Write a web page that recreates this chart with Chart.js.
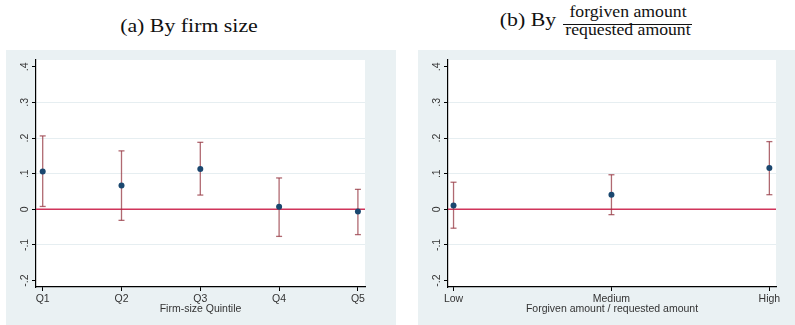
<!DOCTYPE html>
<html>
<head>
<meta charset="utf-8">
<script src="https://cdn.jsdelivr.net/npm/chart.js@4.4.1/dist/chart.umd.min.js"></script>
<style>
  body { margin: 0; width: 795px; height: 325px; position: relative; overflow: hidden; background: #fff; }
  .panel { position: absolute; background: #eaf1f3; }
  .t { position: absolute; width: 200px; text-align: center; white-space: nowrap; color: #111;
       font-family: "Liberation Serif", "Times New Roman", serif; transform: scaleX(1.12); transform-origin: center top; }
  .big { font-size: 19.5px; line-height: 19.5px; }
  .small { font-size: 15.8px; line-height: 15.8px; }
  .bar { position: absolute; left: 563px; top: 23.5px; width: 129px; height: 1px; background: #111; }
</style>
</head>
<body>
<div class="t big" style="left:89px;top:15.5px">(a) By firm size</div>
<div class="t big" style="left:428px;top:10.3px">(b) By</div>
<div class="t small" style="left:527.5px;top:4.1px">forgiven amount</div>
<div class="bar"></div>
<div class="t small" style="left:527.5px;top:21.8px">requested amount</div>

<div class="panel" style="left:6px;top:50px;width:390px;height:275px"><canvas id="c1"></canvas></div>
<div class="panel" style="left:418px;top:50px;width:377px;height:275px"><canvas id="c2"></canvas></div>

<script>
// panel (a): firm-size quintiles
const sizeLabels = ['Q1', 'Q2', 'Q3', 'Q4', 'Q5'];
const sizeCoef = [0.106, 0.067, 0.113, 0.007, -0.006];
const sizeLow = [0.008, -0.031, 0.040, -0.076, -0.071];
const sizeHigh = [0.206, 0.164, 0.188, 0.088, 0.056];

// panel (b): forgiven / requested amount
const forgLabels = ['Low', 'Medium', 'High'];
const forgCoef = [0.011, 0.041, 0.116];
const forgLow = [-0.053, -0.015, 0.041];
const forgHigh = [0.076, 0.097, 0.190];

// shared y axis
const yTicks = [-0.2, -0.1, 0, 0.1, 0.2, 0.3, 0.4];
const yTickLabels = ['-.2', '-.1', '0', '.1', '.2', '.3', '.4'];

const ciColor = 'rgba(150, 55, 65, 0.75)';
const dotColor = '#1a476f';
const zeroColor = '#d0345a';
const textColor = '#333';

// white plot region inside the tinted panel
const plotBg = {
  id: 'plotBg',
  beforeDraw(chart) {
    const { ctx, chartArea: a } = chart;
    ctx.save();
    ctx.fillStyle = '#fff';
    ctx.fillRect(a.left, a.top, a.right - a.left, a.bottom - a.top);
    ctx.restore();
  }
};

function makeChart(id, labels, coef, lo, hi, xTitle, xMin, xMax, padRight) {
  const datasets = [];
  // points first so they sit on top
  datasets.push({
    type: 'scatter',
    data: coef.map((v, i) => ({ x: i + 1, y: v })),
    pointRadius: 3,
    pointBorderWidth: 0,
    pointBackgroundColor: dotColor
  });
  labels.forEach((l, i) => {
    datasets.push({
      type: 'line',
      data: [{ x: i + 1, y: lo[i] }, { x: i + 1, y: hi[i] }],
      borderColor: ciColor,
      borderWidth: 1.3,
      pointStyle: 'line',
      pointRadius: 3,
      pointBorderColor: ciColor,
      pointBorderWidth: 1.3
    });
  });
  datasets.push({
    type: 'line',
    data: [{ x: xMin, y: 0 }, { x: xMax, y: 0 }],
    borderColor: zeroColor,
    borderWidth: 1.4,
    pointRadius: 0
  });

  const font = { family: 'Liberation Sans, Arial, sans-serif', size: 10.5 };

  return new Chart(document.getElementById(id), {
    type: 'scatter',
    data: { datasets },
    plugins: [plotBg],
    options: {
      responsive: true,
      maintainAspectRatio: false,
      animation: false,
      layout: { padding: { left: 0, top: 10, right: padRight, bottom: 0 } },
      plugins: { legend: { display: false }, tooltip: { enabled: false } },
      scales: {
        x: {
          type: 'linear',
          min: xMin,
          max: xMax,
          afterBuildTicks: s => { s.ticks = labels.map((_, i) => ({ value: i + 1 })); },
          afterFit: s => { s.height = 38; },
          ticks: {
            callback: v => labels[Math.round(v) - 1],
            color: textColor, font, padding: 2, maxRotation: 0, autoSkip: false
          },
          grid: { drawOnChartArea: false, tickLength: 4, tickColor: '#000' },
          border: { color: '#000', width: 1.2 },
          title: { display: true, text: xTitle, color: textColor, font, padding: { top: 0, bottom: 9.7 } }
        },
        y: {
          type: 'linear',
          min: -0.218,
          max: 0.419,
          afterBuildTicks: s => { s.ticks = yTicks.map(v => ({ value: v })); },
          afterFit: s => { s.width = 30; },
          ticks: {
            callback: v => yTickLabels[yTicks.findIndex(t => Math.abs(t - v) < 1e-9)],
            color: textColor, font, padding: 1, minRotation: 90, maxRotation: 90, crossAlign: 'center'
          },
          grid: {
            color: ctx => (ctx.tick && (Math.abs(ctx.tick.value - 0.4) < 1e-9 || Math.abs(ctx.tick.value + 0.2) < 1e-9)) ? 'rgba(0,0,0,0)' : '#e6eef1',
            tickColor: '#000', tickLength: 4, lineWidth: 1
          },
          border: { color: '#000', width: 1.2 }
        }
      }
    }
  });
}

makeChart('c1', sizeLabels, sizeCoef, sizeLow, sizeHigh, 'Firm-size Quintile', 0.915, 5.09, 31);
makeChart('c2', forgLabels, forgCoef, forgLow, forgHigh, 'Forgiven amount / requested amount', 0.965, 3.042, 19);
</script>
</body>
</html>
